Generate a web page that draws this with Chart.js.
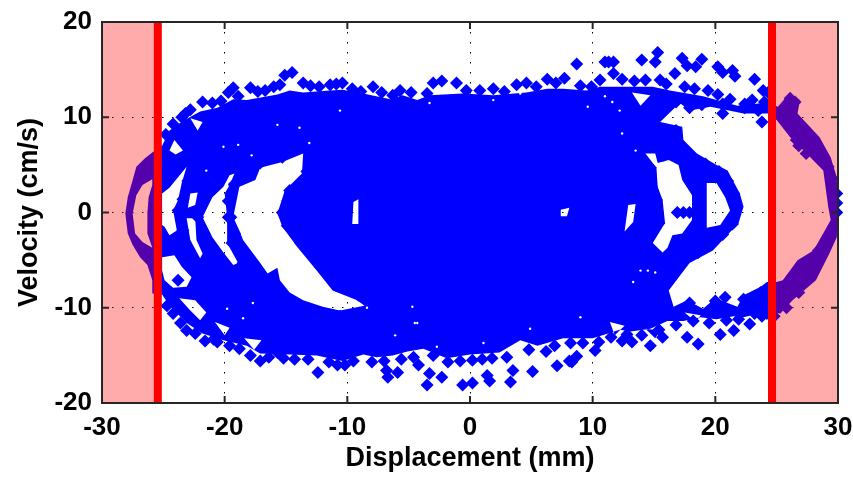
<!DOCTYPE html>
<html>
<head>
<meta charset="utf-8">
<title>Displacement vs velocity</title>
<script src="https://cdn.jsdelivr.net/npm/chart.js@4/dist/chart.umd.min.js"></script>
<style>
  html, body { margin: 0; padding: 0; background: #fff; }
  canvas { display: block; }
</style>
</head>
<body>
<canvas id="chart" width="853" height="478"></canvas>
<script>
// all values: displacement in mm, velocity in cm/s
var xTicks = [-30, -20, -10, 0, 10, 20, 30];
var yTicks = [-20, -10, 0, 10, 20];
var limitLeft = -25.45;
var limitRight = 24.62;

// outer edge of the solid part of the point cloud
var cloudOutline = [
  [-28.1,-0.1],[-27.9,1.6],[-27.5,3.4],[-27.2,4.8],[-26.5,5.7],[-25.9,6.3],[-25.1,7.0],[-24.5,8.6],
  [-23.4,9.6],[-22.0,10.6],[-20.6,11.0],[-19.3,11.9],[-18.2,11.8],[-15.7,12.4],[-14.7,12.8],[-13.6,12.6],
  [-11.4,12.8],[-10.4,12.9],[-8.7,12.5],[-6.5,11.9],[-5.5,12.3],[-4.3,11.8],[-3.3,12.3],[-0.6,12.5],
  [1.9,12.3],[4.6,12.6],[6.3,13.0],[7.6,13.0],[9.5,12.8],[10.6,13.2],[11.7,13.2],[13.1,13.2],
  [14.9,13.2],[16.3,12.8],[19.0,12.2],[21.8,11.2],[23.9,11.5],[24.3,11.8],[24.5,11.4],[25.1,11.1],
  [25.9,12.3],[26.9,11.8],[26.7,10.4],[28.5,7.9],[29.4,5.8],[29.9,3.7],[30,0],[30,-0.8],
  [29.9,-2.6],[29.3,-4.3],[28.2,-7.1],[26.3,-9.2],[25.3,-10.6],[24.2,-10.4],[22.3,-11.0],[21.5,-10.9],
  [20.1,-11.2],[18.8,-11.0],[17.4,-11.4],[16.1,-11.4],[14.7,-12.2],[13.1,-12.5],[12.2,-12.3],[10.8,-12.9],
  [10.0,-13.2],[7.6,-13.2],[5.5,-14.0],[4.1,-13.4],[2.4,-14.7],[0,-14.9],[-1.9,-15.3],[-3.8,-14.3],
  [-5.1,-14.6],[-6.3,-15.0],[-7.6,-15.2],[-8.7,-14.9],[-10.4,-15.6],[-12.5,-15.0],[-14.7,-14.9],[-17.1,-14.8],
  [-18.2,-14.0],[-20.1,-13.4],[-21.8,-12.7],[-23.1,-11.6],[-24.5,-9.8],[-25.1,-8.6],[-25.9,-8.5],[-25.9,-7.1],
  [-26.3,-5.5],[-26.9,-4.7],[-27.5,-3.4],[-27.9,-2.2]
];

// empty regions inside the cloud
var gapLeftArc = [[-25.9,3.5],[-26.7,2.9],[-27.2,1.8],[-27.5,-0.1],[-27.3,-2.2],[-26.7,-3.1],[-25.9,-3.7],[-26.3,-2.2],[-26.3,-0.1],[-26.2,1.6],[-25.9,2.9]];
var gapLeft1 = [[-25.1,2.0],[-24.5,2.6],[-23.8,3.7],[-23.1,4.8],[-23.5,3.1],[-23.8,1.3],[-24.2,0.2],[-23.9,-1.9],[-24.5,-2.4],[-24.9,-1.5],[-25.1,-1.3]];
var gapLeft2 = [[-22.8,2.0],[-22.2,2.1],[-22.4,0.8],[-23.0,0.5]];
var gapLeft3 = [[-23.1,-0.6],[-22.4,-0.6],[-22.3,-2.9],[-21.8,-4.3],[-22.0,-4.8],[-22.8,-2.9]];
var gapLeft4 = [[-19.6,3.9],[-19.2,4.1],[-19.6,2.9],[-20.0,2.0],[-19.8,-0.5],[-19.8,-3.2],[-18.9,-5.3],[-19.3,-5.5],[-20.1,-4.2],[-21.0,-2.6],[-21.8,-0.5],[-21.0,1.6],[-20.1,2.7]];
var gapLeftBig = [[-13.6,6.2],[-15.3,5.3],[-17.1,4.7],[-17.5,3.4],[-18.8,2.7],[-19.3,-0.5],[-18.8,-1.9],[-18.5,-2.9],[-17.1,-5.3],[-16.5,-6.4],[-15.7,-5.8],[-15.5,-7.1],[-14.7,-8.4],[-13.6,-9.2],[-12.0,-9.9],[-10.6,-10.3],[-8.6,-9.8],[-9.2,-9.2],[-11.2,-8.2],[-12.5,-6.1],[-14.1,-3.6],[-15.3,-1.5],[-15.7,-0.1],[-15.1,2.3],[-13.7,4.1]];
var gapLowerLeft = [[-25.1,-4.7],[-24.1,-4.5],[-23.5,-5.7],[-22.7,-6.8],[-23.1,-7.8],[-24.2,-7.9],[-24.9,-7.1],[-25.1,-6.1]];
var gapUpperLeft = [[-24.1,7.6],[-23.4,6.5],[-24.0,6.1],[-24.5,6.5]];
var gapLowerLeft2 = [[-23.7,-9.0],[-22.4,-9.2],[-21.5,-10.5],[-22.0,-11.3],[-22.8,-10.3]];
var gapCoreLeft = [[-9.5,1.1],[-9.1,1.4],[-9.1,-1.2],[-9.6,-1.2]];
var gapCoreRight = [[7.4,0.3],[8.1,0.5],[7.9,-0.4],[7.4,-0.4]];
var gapCoreFar = [[12.9,0.8],[13.5,0.9],[13.3,-1.0],[12.6,-2.0]];
var gapRightOuter = [[15.5,9.5],[17.3,9.0],[17.4,7.6],[18.5,6.2],[20.1,5.0],[21.0,4.4],[22.0,2.0],[22.3,0.6],[21.9,-1.1],[19.8,-4.0],[17.9,-5.3],[16.2,-8.2],[16.6,-9.9],[17.7,-9.2],[19.0,-10.1],[20.0,-9.0],[21.8,-9.9],[22.3,-8.7],[23.7,-7.8],[24.2,-7.3],[25.0,-7.3],[25.5,-7.1],[26.7,-5.0],[28.0,-4.0],[29.1,-1.5],[29.4,-0.8],[29.2,0.6],[28.8,4.4],[27.2,6.5],[26.1,7.9],[25.0,9.7],[24.3,10.4],[22.3,10.4],[19.6,11.1],[17.9,10.7],[17.1,11.5],[16.3,10.5]];
var gapRight1 = [[14.3,6.2],[15.1,6.2],[15.3,5.2],[16.2,5.5],[17.0,5.0],[17.3,3.4],[18.1,1.8],[18.1,-0.8],[17.3,-2.2],[16.5,-2.4],[16.1,-3.7],[15.7,-4.2],[14.9,-3.2],[15.9,-1.1],[15.7,1.3],[15.3,2.7],[15.2,4.7]];
var gapRight2 = [[19.3,3.1],[20.1,3.1],[20.8,1.6],[21.2,0.2],[20.4,-1.3],[19.3,-1.6],[19.3,0.6]];
var gapTopRight = [[13.2,12.6],[14.7,12.3],[13.9,11.2]];
var gapsEdge = [
  [[-20.8,-11.5],[-19.6,-12.1],[-20.0,-12.9]], [[-18.4,-13.2],[-17.0,-13.4],[-17.6,-14.4]],
  [[11.4,-11.5],[12.6,-11.9],[11.8,-12.9]], [[14.3,-12.2],[15.5,-12.4],[15.1,-13.2]],
  [[17.5,-10.5],[18.8,-10.8],[18.4,-11.5]], [[-22.8,9.9],[-21.8,9.5],[-22.2,8.6]]
];

// single diamonds standing out of the cloud edge
var edgeTop = [
  [-14.5,14.7],[-15.1,14.4],[-13.6,13.6],[-19.3,13.1],[-19.7,12.6],[-17.9,13.1],[-17.3,12.7],[-21.8,11.6],[-23.2,10.4],
  [-10.4,13.6],[-11.4,13.4],[-15.5,13.4],[-7.9,13.2],[-3.0,13.6],[-2.3,13.8],[-1.1,13.6],[-5.7,12.8],[-3.5,12.5],
  [1.9,13.0],[3.8,13.4],[4.6,13.6],[6.3,14.0],[7.7,14.1],[8.7,15.6],[11.0,15.8],[10.6,13.9],[11.7,15.8],[11.3,15.8],
  [14.0,16.0],[15.3,16.8],[15.1,15.8],[17.3,16.2],[18.9,16.1],[17.7,15.4],[18.4,15.3],[20.2,15.3],[20.6,14.7],[21.4,14.9],
  [21.6,14.3],[23.2,14.0],[16.7,14.6],[11.7,14.6],[23.9,12.8],[16.1,12.0],[17.9,11.0],[20.6,10.4],[23.8,9.5],[26.1,12.0],[26.5,11.6],
  [-24.8,8.2],[-24.2,9.3],[-23.5,10.0],[-22.8,10.8],[-21.0,11.5],[-20.3,11.7],[-18.9,12.2],[-16.7,12.8],[-16.0,13.2],[-13.0,13.3],
  [-12.3,13.2],[-10.9,13.5],[-9.6,13.0],[-8.9,12.7],[-7.2,12.6],[-6.3,12.3],[-4.8,12.6],[-0.3,12.8],[0.8,12.8],[2.8,12.7],
  [5.4,13.2],[7.0,13.6],[9.0,13.3],[9.9,13.2],[12.4,14.0],[13.4,13.8],[14.3,13.9],[15.5,13.9],[16.0,13.5],[17.5,13.2],
  [18.3,13.0],[19.4,12.8],[20.2,12.4],[21.2,11.9],[22.4,11.4],[23.0,11.8],[24.0,11.6],[24.3,12.6]
];
var edgeBottom = [
  [-12.4,-16.8],[-17.1,-15.6],[-17.9,-15.0],[-21.6,-13.5],[-23.1,-12.4],[-20.6,-13.6],[-15.7,-14.7],[-10.8,-16.0],
  [-6.7,-17.3],[-5.9,-16.8],[-3.5,-18.1],[-2.3,-17.3],[-3.3,-16.9],[-4.2,-16.0],[-0.6,-18.1],[0.2,-17.9],[1.4,-17.1],[1.6,-17.7],
  [3.3,-17.8],[3.5,-16.6],[5.1,-16.7],[7.1,-16.1],[8.1,-15.6],[8.7,-15.1],[0.2,-15.5],[-6.8,-16.6],[8.3,-15.7],[10.2,-14.5],
  [12.4,-13.5],[13.2,-13.6],[14.7,-14.0],[15.7,-13.1],[17.7,-13.1],[18.6,-13.8],[20.4,-12.8],[21.5,-12.4],[22.8,-11.7],[23.8,-10.9],
  [24.8,-10.9],[24.2,-10.6],[23.2,-10.6],[21.9,-11.2],[20.9,-11.3],[19.5,-11.6],[18.2,-11.4],[16.8,-11.8],[15.4,-12.3],[14.0,-12.9],
  [12.8,-12.8],[11.5,-13.1],[10.5,-13.6],[9.2,-13.7],[8.2,-13.7],[6.9,-14.0],[6.2,-14.6],[4.8,-14.4],[3.0,-15.2],[1.8,-15.3],
  [1.0,-15.4],[-0.8,-15.6],[-1.8,-15.7],[-3.0,-15.0],[-4.6,-15.2],[-5.6,-15.4],[-7.0,-15.6],[-8.0,-15.7],[-9.5,-15.6],[-10.2,-16.0],
  [-11.5,-15.7],[-13.2,-15.4],[-14.3,-15.4],[-15.2,-15.3],[-16.4,-15.2],[-18.8,-14.3],[-19.6,-14.0],[-20.9,-13.3],[-22.4,-12.7],[-23.6,-11.6],
  [-24.2,-10.6],[-24.7,-9.8]
];
var edgeRight = [
  [20.8,-8.9],[17.9,-9.5],[20.0,-9.3],[22.3,-9.1],[23.7,-8.4],[16.9,0],[17.4,0],[17.9,0],[29.9,2.0],[29.9,1.0],[29.9,0],
  [25.6,10.6],[26.1,10.2],[26.6,9.4],[26.9,8.6],[27.3,8.0],[27.8,7.4],[28.2,6.6],[28.8,5.8],[29.2,4.8],[29.5,3.6],
  [26.8,7.0],[27.4,6.2],[26.6,7.6],[26.4,-6.6],[27.1,-5.8],[27.8,-5.0],[28.4,-4.0],[29.0,-3.2],[25.6,-8.8],[25.8,-10.0],[26.8,-8.4],
  [16.8,8.6],[17.0,7.4],[18.0,5.8],[19.2,5.1],[20.3,4.3],[21.0,3.3],[21.5,2.0],[21.7,0.4],[21.4,-1.2],[20.6,-2.3],
  [19.6,-3.4],[18.6,-4.2],[17.5,-5.0],[16.6,-6.2],[15.9,-7.6],[23.5,10.7],[22.4,11.0],[20.6,11.4],[18.9,11.3],[16.8,11.6],
  [14.7,6.9],[15.8,6.0],[17.2,5.6],[17.8,3.8],[18.6,2.0],[18.6,-0.8],[17.8,-2.6],[17.0,-3.0],[16.5,-4.3],[15.5,-4.9],
  [14.4,-3.4],[15.4,-1.1],[15.2,1.3],[14.8,2.7],[14.7,4.7]
];
var edgeLeft = [
  [-23.8,-7.1],[-15.3,5.8],[-17.1,5.2],[-17.9,3.9],[-19.2,3.0],[-19.7,1.2],[-19.7,-0.5],[-19.2,-2.2],[-18.8,-3.6],[-18.0,-4.7],
  [-17.5,-5.7],[-16.6,-7.0],[-15.9,-7.8],[-15.0,-9.0],[-13.9,-9.8],[-12.2,-10.5],[-10.6,-10.9],[-13.3,4.3],[-14.7,2.3],[-15.3,0],
  [-14.9,-1.4],[-13.8,-3.2],[-12.2,-5.7],[-10.9,-7.7],[-9.1,-8.7],[-23.0,3.3],[-23.4,1.4],[-23.8,0.2],[-23.4,-1.9],[-24.3,-3.0],
  [-19.2,2.9],[-19.5,-0.5],[-19.4,-3.2],[-18.5,-5.3],[-21.4,1.9],[-22.2,-0.5],[-21.4,-2.9],[-20.5,-4.7]
];

// tiny empty spots in the filled part
var specks = [
  [-20.1,6.9],[-18.9,7.1],[-17.8,6.0],[-13.1,7.3],[-21.5,4.4],[-18.5,-11.1],[-17.7,-9.5],[-19.8,-10.1],[-8.4,-10.0],[-4.3,-11.6],
  [-2.7,-14.1],[1.1,-13.7],[4.9,-12.2],[9.0,-11.0],[12.4,8.3],[13.5,6.5],[13.9,-6.1],[14.5,-6.1],[15.1,-6.3],[13.3,-7.3],
  [11.0,12.2],[11.6,11.6],[12.2,10.7],[-3.3,11.5],[1.9,11.8],[-10.6,10.7],[4.1,12.5],[9.6,11.1],[-15.7,9.2],[-13.9,8.9],
  [-4.7,-9.9],[-4.5,-11.6],[-6.1,-12.9]
];

var zoneLeft = [[-30,20],[limitLeft,20],[limitLeft,-20],[-30,-20]];
var zoneRight = [[limitRight,20],[30,20],[30,-20],[limitRight,-20]];
var lineLeft = [[limitLeft,20],[limitLeft,-20]];
var lineRight = [[limitRight,20],[limitRight,-20]];

function toPoints(list) {
  return list.map(function (p) { return { x: p[0], y: p[1] }; });
}

function signedArea(list) {
  var sum = 0;
  for (var i = 0; i < list.length; i++) {
    var a = list[i], b = list[(i + 1) % list.length];
    sum += a[0] * b[1] - b[0] * a[1];
  }
  return sum;
}

// one path only: each gap is reached by a slit and runs the other way round
function cutGaps(outline, gaps) {
  var start = outline[0];
  var path = outline.concat([start]);
  var dir = signedArea(outline) > 0;
  gaps.forEach(function (gap) {
    var ring = (signedArea(gap) > 0) === dir ? gap.slice().reverse() : gap.slice();
    path = path.concat(ring, [ring[0], start]);
  });
  return path;
}

var cloudPath = cutGaps(cloudOutline, [
  gapLeftArc, gapLeft1, gapLeft2, gapLeft3, gapLeft4, gapLeftBig, gapLowerLeft, gapUpperLeft, gapLowerLeft2,
  gapCoreLeft, gapCoreRight, gapCoreFar, gapRightOuter, gapRight1, gapRight2, gapTopRight
].concat(gapsEdge));

function shape(list, color, order) {
  return {
    data: toPoints(list), showLine: true, fill: "shape", backgroundColor: color,
    borderWidth: 0, borderDash: [1, 1], pointRadius: 0, order: order
  };
}

function limit(list) {
  return {
    data: toPoints(list), showLine: true, fill: false, borderColor: "#ff0000",
    borderWidth: 8, pointRadius: 0, order: 0
  };
}

// inward ticks and the box of the axes
var axesBox = {
  id: "axesBox",
  afterDatasetsDraw: function (chart) {
    var ctx = chart.ctx, a = chart.chartArea, len = 7;
    ctx.save();
    ctx.strokeStyle = "#262626";
    ctx.lineWidth = 2;
    ctx.strokeRect(a.left, a.top, a.right - a.left, a.bottom - a.top);
    ctx.beginPath();
    chart.scales.x.ticks.forEach(function (t) {
      var px = chart.scales.x.getPixelForValue(t.value);
      ctx.moveTo(px, a.top); ctx.lineTo(px, a.top + len);
      ctx.moveTo(px, a.bottom); ctx.lineTo(px, a.bottom - len);
    });
    chart.scales.y.ticks.forEach(function (t) {
      var py = chart.scales.y.getPixelForValue(t.value);
      ctx.moveTo(a.left, py); ctx.lineTo(a.left + len, py);
      ctx.moveTo(a.right, py); ctx.lineTo(a.right - len, py);
    });
    ctx.stroke();
    ctx.restore();
  }
};

var tickFont = { family: "'Liberation Sans', Arial, sans-serif", size: 26, weight: "bold" };
var titleFont = { family: "'Liberation Sans', Arial, sans-serif", size: 27, weight: "bold" };
var gridStyle = { color: "#000", lineWidth: 1, drawTicks: false };

new Chart(document.getElementById("chart"), {
  type: "scatter",
  data: {
    datasets: [
      limit(lineLeft),
      limit(lineRight),
      shape(zoneLeft, "rgba(255,0,0,0.33)", 1),
      shape(zoneRight, "rgba(255,0,0,0.33)", 1),
      { data: toPoints(specks), pointStyle: "circle", pointRadius: 1.2, pointBackgroundColor: "#fff", pointBorderWidth: 0, order: 2 },
      { data: toPoints(edgeTop.concat(edgeBottom, edgeRight, edgeLeft)), pointStyle: "rectRot", pointRadius: 6.5, pointBackgroundColor: "#0000ff", pointBorderWidth: 0, clip: false, order: 3 },
      shape(cloudPath, "#0000ff", 4)
    ]
  },
  options: {
    responsive: false,
    animation: false,
    events: [],
    layout: { padding: { top: 22, right: 15, left: 0, bottom: 0 } },
    plugins: { legend: { display: false }, tooltip: { enabled: false } },
    scales: {
      x: {
        type: "linear", min: xTicks[0], max: xTicks[xTicks.length - 1],
        afterFit: function (s) { s.height = 75; s.paddingLeft = 0; s.paddingRight = 0; },
        afterBuildTicks: function (s) { s.ticks = xTicks.map(function (v) { return { value: v }; }); },
        grid: gridStyle,
        border: { display: false, dash: [1.5, 8.5] },
        ticks: { color: "#000", font: tickFont, padding: 9, maxRotation: 0, autoSkip: false },
        title: { display: true, text: "Displacement (mm)", color: "#000", font: titleFont, padding: { top: 4, bottom: 3 } }
      },
      y: {
        type: "linear", min: yTicks[0], max: yTicks[yTicks.length - 1],
        afterFit: function (s) { s.width = 102; s.paddingTop = 0; s.paddingBottom = 0; },
        afterBuildTicks: function (s) { s.ticks = yTicks.map(function (v) { return { value: v }; }); },
        grid: gridStyle,
        border: { display: false, dash: [1.5, 8.5] },
        ticks: { color: "#000", font: tickFont, padding: 10, autoSkip: false },
        title: { display: true, text: "Velocity (cm/s)", color: "#000", font: titleFont, padding: { top: 13, bottom: 4 } }
      }
    }
  },
  plugins: [axesBox]
});
</script>
</body>
</html>
